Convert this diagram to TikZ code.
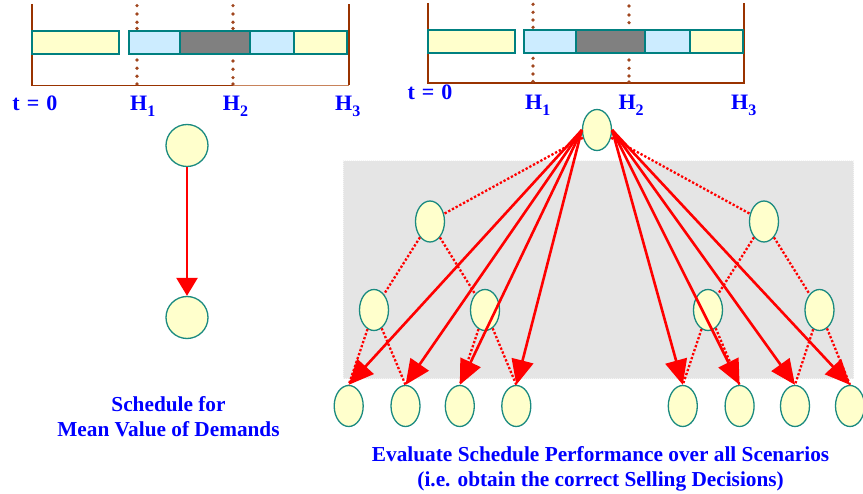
\documentclass[tikz,border=0pt]{standalone}
\usepackage{fontspec}
\setmainfont{Liberation Serif}
\usetikzlibrary{arrows.meta,shapes.geometric}

\definecolor{brownline}{HTML}{993300}
\definecolor{brownlight}{HTML}{C8825A}
\definecolor{dotbrown}{HTML}{A0461E}
\definecolor{tealedge}{HTML}{008080}
\definecolor{paleyellow}{HTML}{FFFFCC}
\definecolor{paleblue}{HTML}{CCECFF}
\definecolor{midgray}{HTML}{808080}
\definecolor{nodeedge}{HTML}{1A8A80}
\definecolor{boxgray}{HTML}{E5E5E5}

\newcommand\hsub[1]{\raisebox{-6pt}{\fontsize{16}{16}\selectfont #1}}
\newcommand\tzero{t\hspace{7pt}=\hspace{7pt}0}

\tikzset{
  bracket/.style={draw=brownline, line width=1.8pt},
  hdot/.style={fill=dotbrown},
  seg/.style={draw=tealedge, line width=2pt},
  state/.style={ellipse, draw=nodeedge, line width=1.3pt, fill=paleyellow,
                minimum width=29pt, minimum height=41pt, inner sep=0pt},
  meanstate/.style={circle, draw=nodeedge, line width=1.3pt, fill=paleyellow,
                minimum size=42pt, inner sep=0pt},
  dotlink/.style={draw=red, line width=2.3pt, dash pattern=on 2.3pt off 1.9pt},
  scenarrow/.style={draw=red, line width=2.6pt, -{Triangle[length=25pt,width=22pt]}},
  meanarrow/.style={draw=red, line width=2.6pt, -{Triangle[length=18pt,width=21pt]}},
  timelabel/.style={text=blue, font=\bfseries\fontsize{22}{22}\selectfont,
                inner sep=0pt, anchor=base west},
  caption/.style={text=blue, font=\bfseries\fontsize{21.3}{21.3}\selectfont,
                inner sep=0pt, anchor=base},
}

\begin{document}
\begin{tikzpicture}[x=1pt, y=-1pt]
\useasboundingbox (0,0) rectangle (863,494);

% ---------- left time line ----------
\foreach \y in {5.7,14,22.3,28.5,60,68.3,76.3}
  \fill[hdot] (137,\y) circle (1.8);
\foreach \y in {5.7,14,22.3,28.5,61,69.3,77.7}
  \fill[hdot] (233,\y) circle (1.8);
\draw[bracket] (32,4) -- (32,85.5) -- (233,85.5);
\draw[draw=brownlight, line width=1.8pt] (233,85.5) -- (349,85.5);
\draw[bracket] (349,85.5) -- (349,4);
\fill[hdot] (137,84) circle (1.8);
\fill[hdot] (233,84) circle (1.8);
\draw[seg, fill=paleyellow] (32,31) rectangle (119,54);
\draw[seg, fill=paleblue]   (129,31) rectangle (180,54);
\draw[seg, fill=midgray]    (180,31) rectangle (250,54);
\draw[seg, fill=paleblue]   (250,31) rectangle (294,54);
\draw[seg, fill=paleyellow] (294,31) rectangle (347,54);

\node[timelabel] (lt0) at (12.3,111) {\tzero};
\node[timelabel] (lh1) at (130,111) {H\hsub{1}};
\node[timelabel] (lh2) at (222.7,111) {H\hsub{2}};
\node[timelabel] (lh3) at (335,111) {H\hsub{3}};

% ---------- right time line ----------
\foreach \y in {4.3,12.3,20,27.3,58.3,66,74}
  \fill[hdot] (533,\y) circle (1.8);
\foreach \y in {6,15,22.7,60,68.3,76}
  \fill[hdot] (629,\y) circle (1.8);
\draw[bracket] (428,3) -- (428,83) -- (744,83) -- (744,3);
\fill[hdot] (533,81.5) circle (1.8);
\fill[hdot] (629,82) circle (1.8);
\draw[seg, fill=paleyellow] (428,30) rectangle (515,53);
\draw[seg, fill=paleblue]   (524,30) rectangle (576,53);
\draw[seg, fill=midgray]    (576,30) rectangle (645,53);
\draw[seg, fill=paleblue]   (645,30) rectangle (690,53);
\draw[seg, fill=paleyellow] (690,30) rectangle (743,53);

\node[timelabel] (rt0) at (407.3,100) {\tzero};
\node[timelabel] (rh1) at (525,110) {H\hsub{1}};
\node[timelabel] (rh2) at (618.3,110) {H\hsub{2}};
\node[timelabel] (rh3) at (731,110) {H\hsub{3}};

% ---------- mean value schedule ----------
\node[meanstate] (mtop) at (187,145.5) {};
\node[meanstate] (mbot) at (187,317.5) {};
\draw[meanarrow] (mtop) -- (mbot);

\node[caption] (mcapA) at (168.5,412) {Schedule for};
\node[caption] (mcapB) at (168.5,437) {Mean Value of Demands};

% ---------- scenario tree ----------
\fill[boxgray] (343,161) rectangle (853.5,379);
\draw[draw=white!60!boxgray, line width=1pt, dash pattern=on 1pt off 1pt]
  (343,161) rectangle (853.5,379);

\node[state] (root) at (597,130) {};
\node[state] (a1) at (430,221.5) {};
\node[state] (a2) at (764,221.5) {};
\node[state] (b1) at (374,310) {};
\node[state] (b2) at (485,310) {};
\node[state] (b3) at (708,310) {};
\node[state] (b4) at (819.5,310) {};
\node[state] (c1) at (348.7,406) {};
\node[state] (c2) at (405.5,406) {};
\node[state] (c3) at (459.8,406) {};
\node[state] (c4) at (516.3,406) {};
\node[state] (c5) at (682.8,406) {};
\node[state] (c6) at (739.6,406) {};
\node[state] (c7) at (795,406) {};
\node[state] (c8) at (850,406) {};

% branching of the tree
\draw[dotlink] (root) -- (a1);
\draw[dotlink] (root) -- (a2);
\draw[dotlink] (a1) -- (b1);
\draw[dotlink] (a1) -- (b2);
\draw[dotlink] (a2) -- (b3);
\draw[dotlink] (a2) -- (b4);
\draw[dotlink] (b1) -- (c1.north);
\draw[dotlink] (b1) -- (c2.north);
\draw[dotlink] (b2) -- (c3.north);
\draw[dotlink] (b2) -- (c4.north);
\draw[dotlink] (b3) -- (c5.north);
\draw[dotlink] (b3) -- (c6.north);
\draw[dotlink] (b4) -- (c7.north);
\draw[dotlink] (b4) -- (c8.north);

% evaluation of the schedule in every scenario
\foreach \leaf in {c1,c2,c3,c4}
  \draw[scenarrow] (root.west) -- (\leaf.north);
\foreach \leaf in {c5,c6,c7,c8}
  \draw[scenarrow] (root.east) -- (\leaf.north);

\node[caption] (ecapA) at (600.6,462) {Evaluate Schedule Performance over all Scenarios};
\node[caption] (ecapB) at (600.6,486.5) {(i.e. obtain the correct Selling Decisions)};
\end{tikzpicture}
\end{document}
